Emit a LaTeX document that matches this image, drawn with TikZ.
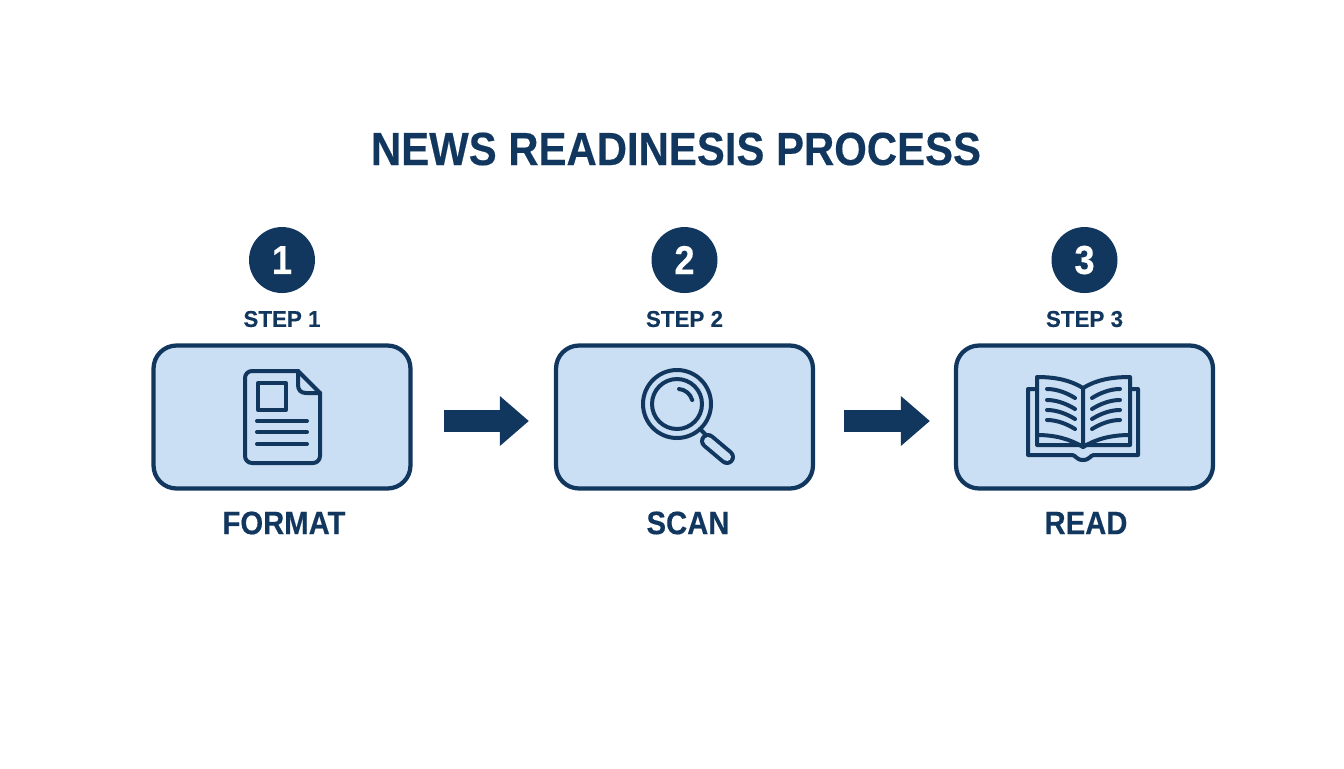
\documentclass[tikz,border=0pt]{standalone}
\usepackage{fontspec}
\setmainfont{Liberation Sans}[FakeStretch=0.9,BoldFeatures={FakeBold=0.35}]
\usepackage{xcolor}
\usetikzlibrary{arrows.meta}
\definecolor{navy}{HTML}{12375F}
\definecolor{paleblue}{HTML}{CADFF3}
\tikzset{
  stepbox/.style={draw=navy, fill=paleblue, line width=0.085cm, rounded corners=0.46cm, minimum width=5.14cm, minimum height=2.86cm},
  stepnum/.style={circle, fill=navy, text=white, minimum size=1.32cm, inner sep=0pt, font=\fontsize{23}{23}\selectfont\bfseries},
  steptag/.style={text=navy, inner sep=0pt, font=\fontsize{13}{13}\selectfont\bfseries\addfontfeature{FakeStretch=0.98}},
  stepname/.style={text=navy, inner sep=0pt, font=\fontsize{18.5}{18.5}\selectfont\bfseries},
  flow/.style={navy, line width=0.44cm, -{Triangle[length=0.58cm,width=0.96cm]}},
  icon/.style={draw=navy, line width=0.08cm, line cap=round, line join=round}
}
\begin{document}
\begin{tikzpicture}[x=0.02cm, y=-0.02cm]
\useasboundingbox (0,0) rectangle (1344,768);
\node (title) [text=navy, inner sep=0pt, font=\fontsize{26.5}{26.5}\selectfont\bfseries] at (676,149) {NEWS READINESIS PROCESS};

\node (format) [stepbox] at (282,417) {};
\node (scan) [stepbox] at (684.5,417) {};
\node (read) [stepbox] at (1084.5,417) {};

\node (num1) [stepnum, above of=format, node distance=3.14cm] {1};
\node (num2) [stepnum, above of=scan, node distance=3.14cm] {2};
\node (num3) [stepnum, above of=read, node distance=3.14cm] {3};
\node (tag1) [steptag, above of=format, node distance=1.96cm] {STEP 1};
\node (tag2) [steptag, above of=scan, node distance=1.96cm] {STEP 2};
\node (tag3) [steptag, above of=read, node distance=1.96cm] {STEP 3};
\node (name1) [stepname, below of=format, node distance=2.12cm, xshift=0.04cm] {FORMAT};
\node (name2) [stepname, below of=scan, node distance=2.12cm, xshift=0.07cm] {SCAN};
\node (name3) [stepname, below of=read, node distance=2.12cm, xshift=0.03cm] {READ};

\draw[flow, shorten <=0.62cm, shorten >=0.5cm] ([yshift=-0.08cm]format.east) -- ([yshift=-0.08cm]scan.west);
\draw[flow, shorten <=0.57cm, shorten >=0.48cm] ([yshift=-0.08cm]scan.east) -- ([yshift=-0.08cm]read.west);

% document
\draw[icon, rounded corners=0.14cm] (298,371) -- (245,371) -- (245,463) -- (320,463) -- (320,393);
\draw[icon] (298,371) -- (320,393);
\draw[icon] (298,371) -- (298,385) .. controls (298,390) and (301,393) .. (306,393) -- (320,393);
\draw[icon] (258,383) rectangle (286,410);
\draw[icon] (257,421) -- (307,421);
\draw[icon] (257,432) -- (307,432);
\draw[icon] (257,444) -- (307,444);

% magnifier
\draw[icon] (677,404) circle (34);
\draw[icon] (677,404) circle (25);
\draw[icon] (679,389) arc (-85:-15:15);
\draw[icon] (700,429) -- (706,435);
\draw[navy, line width=0.32cm, line cap=round] (708,441) -- (727,457);
\draw[paleblue, line width=0.16cm, line cap=round] (708,441) -- (727,457);

% book
\draw[icon] (1037,389) -- (1028,389) -- (1028,455) -- (1072,455) .. controls (1076,455) and (1076,460) .. (1083,460) .. controls (1090,460) and (1090,455) .. (1094,455) -- (1138,455) -- (1138,389) -- (1130,389);
\draw[icon] (1083,388) .. controls (1070,380) and (1055,377) .. (1037,377) -- (1037,445) -- (1130,445) -- (1130,377) .. controls (1111,377) and (1096,380) .. (1083,388) -- (1083,447);
\draw[icon] (1037,435) .. controls (1055,435) and (1070,439) .. (1083,447) .. controls (1096,439) and (1111,435) .. (1130,435);
\draw[icon] (1047,389) .. controls (1057,389) and (1067,393) .. (1075,398);
\draw[icon] (1047,400) .. controls (1057,400) and (1067,404) .. (1075,409);
\draw[icon] (1047,410) .. controls (1057,410) and (1067,414) .. (1075,419);
\draw[icon] (1047,420) .. controls (1057,420) and (1067,424) .. (1075,429);
\draw[icon] (1120,389) .. controls (1110,389) and (1100,393) .. (1092,398);
\draw[icon] (1120,400) .. controls (1110,400) and (1100,404) .. (1092,409);
\draw[icon] (1120,410) .. controls (1110,410) and (1100,414) .. (1092,419);
\draw[icon] (1120,420) .. controls (1110,420) and (1100,424) .. (1092,429);
\end{tikzpicture}
\end{document}
